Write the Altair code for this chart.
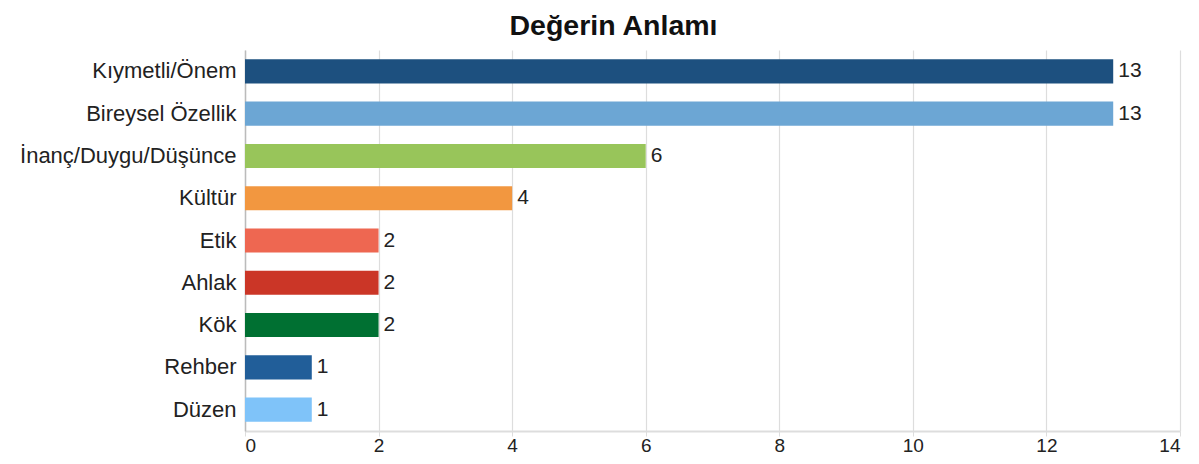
import altair as alt
import pandas as pd

categories = ["Kıymetli/Önem", "Bireysel Özellik", "İnanç/Duygu/Düşünce", "Kültür",
              "Etik", "Ahlak", "Kök", "Rehber", "Düzen"]
values = [13, 13, 6, 4, 2, 2, 2, 1, 1]
colors = ["#1d507f", "#6ca6d4", "#98c55a", "#f29740", "#ee6751",
          "#cb3627", "#007032", "#215e99", "#7fc3f9"]
tick_values = [0, 2, 4, 6, 8, 10, 12, 14]

df = pd.DataFrame({"cat": categories, "val": values, "color": colors})

FONT = "Liberation Sans"

y = alt.Y("cat:N", sort=categories, title=None,
          scale=alt.Scale(paddingInner=0.43, paddingOuter=0.22),
          axis=alt.Axis(ticks=False, labelPadding=9, labelFontSize=22,
                        labelLimit=400,
                        labelFont=FONT, labelColor="#222", domainColor="#bbbbbb",
                        domainWidth=1.5))
x = alt.X("val:Q", title=None,
          scale=alt.Scale(domain=[0, 14], nice=False),
          axis=alt.Axis(values=tick_values, format="d", grid=True,
                        gridColor="#dddddd", gridWidth=1.2, tickColor="#dddddd",
                        tickSize=5, domainColor="#dddddd", domainWidth=2,
                        labelFontSize=19, labelFont=FONT, labelColor="#222",
                        labelPadding=0))

bars = alt.Chart(df).mark_bar().encode(
    x=x, y=y, color=alt.Color("color:N", scale=None)
)
labels = alt.Chart(df).mark_text(align="left", baseline="middle", dx=5,
                                 fontSize=21, font=FONT, color="#222").encode(
    x="val:Q", y=alt.Y("cat:N", sort=categories), text="val:Q"
)

chart = (bars + labels).properties(
    width=935, height=381,
    padding={"left": 237, "top": 42, "right": 11, "bottom": 25},
    autosize=alt.AutoSizeParams(type="none"),
    title=alt.TitleParams("Değerin Anlamı", font=FONT, fontSize=28.5,
                          fontWeight="bold", color="#111", anchor="middle",
                          frame="group", dx=-99, offset=10),
).configure_view(stroke=None)

chart.save("out.html", embed_options={"renderer": "svg", "actions": False})
